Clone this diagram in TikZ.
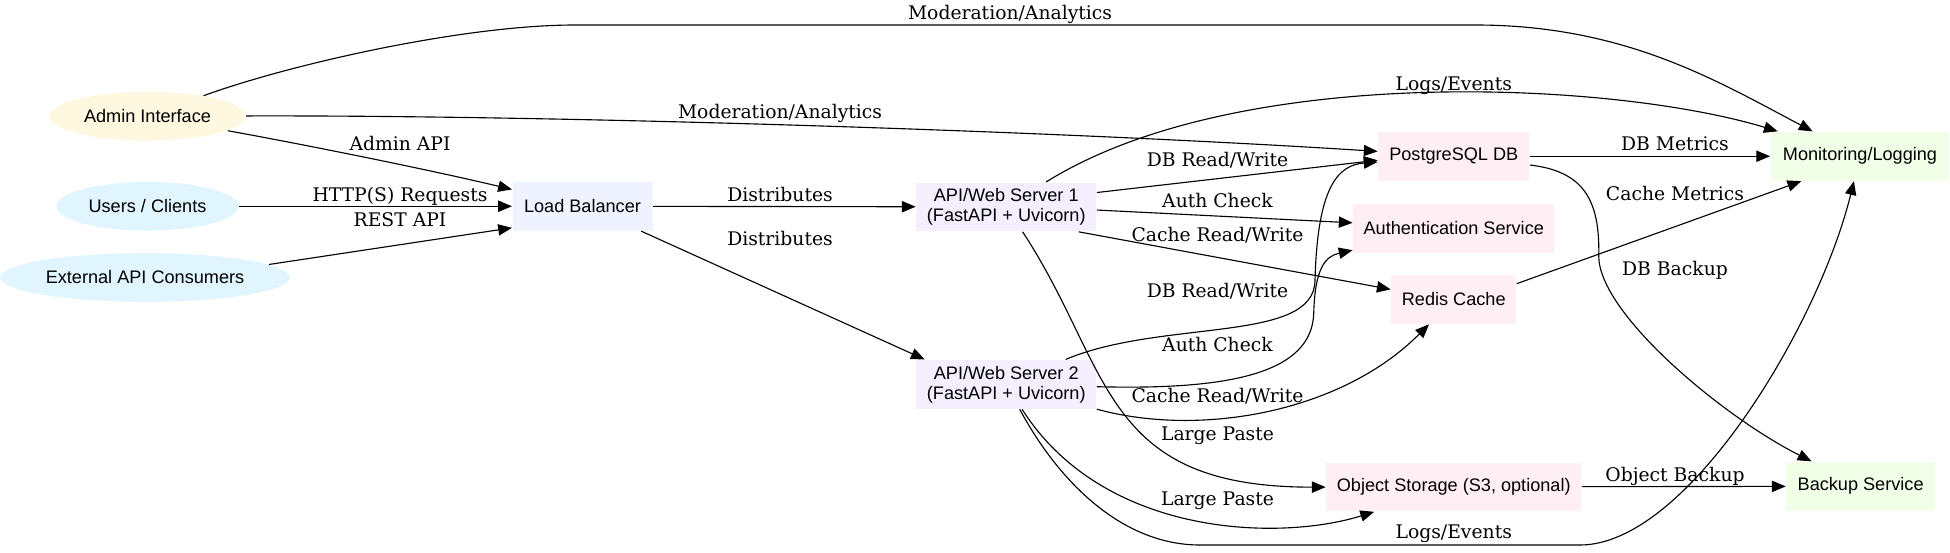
\documentclass[tikz,border=0pt]{standalone}
\usepackage{xcolor}
\usepackage{fontspec}
\usepackage{tikz}
\usetikzlibrary{shapes.geometric, arrows.meta}
\newfontfamily\arialfont{Liberation Sans}
\newfontfamily\rotfont{DejaVu Serif}
\definecolor{corAdmin}{HTML}{FFF8E1}
\definecolor{corCliente}{HTML}{E1F5FE}
\definecolor{corLB}{HTML}{EEF3FF}
\definecolor{corAPI}{HTML}{F5EEFF}
\definecolor{corDados}{HTML}{FFEFF4}
\definecolor{corOps}{HTML}{F1FFE8}

\begin{document}
\begin{tikzpicture}[x=1pt, y=-1pt, line width=0.9pt,
  >={Triangle[length=11pt,width=9pt]},
  elipse/.style={ellipse, fill=#1, inner sep=0pt, minimum height=39pt,
    font=\arialfont\fontsize{14.5}{16}\selectfont},
  caixa/.style={rectangle, fill=#1, inner sep=0pt, minimum height=39pt, align=center,
    font=\arialfont\fontsize{14.5}{16}\selectfont},
  rotulo/.style={inner sep=0pt, text height=11pt, text depth=3pt,
    font=\rotfont\fontsize{15}{17}\selectfont}]
\useasboundingbox (0,0) rectangle (1560,441.6);
% Nós
\node[elipse=corAdmin, minimum width=157pt] (admin) at (118,93) {Admin Interface};
\node[elipse=corCliente, minimum width=146pt] (users) at (118,165) {Users / Clients};
\node[elipse=corCliente, minimum width=232pt] (ext) at (116,222) {External API Consumers};
\node[caixa=corLB, minimum width=112pt] (lb) at (466,165) {Load Balancer};
\node[caixa=corAPI, minimum width=144pt] (api1) at (805,165.5) {API/Web Server 1\\(FastAPI + Uvicorn)};
\node[caixa=corAPI, minimum width=144pt] (api2) at (805,307.5) {API/Web Server 2\\(FastAPI + Uvicorn)};
\node[caixa=corDados, minimum width=121pt] (pg) at (1163,125) {PostgreSQL DB};
\node[caixa=corDados, minimum width=161pt] (auth) at (1163,182.5) {Authentication Service};
\node[caixa=corDados, minimum width=100pt] (redis) at (1163,239.5) {Redis Cache};
\node[caixa=corDados, minimum width=204pt] (obj) at (1163,389.5) {Object Storage (S3, optional)};
\node[caixa=corOps, minimum width=143pt] (mon) at (1488,125) {Monitoring/Logging};
\node[caixa=corOps, minimum width=119pt] (backup) at (1488.5,389) {Backup Service};
% Arestas
\draw[->] (admin) .. controls (230,52) and (370,20) .. (460,20) -- (1180,20) .. controls (1300,20) and (1374,65) .. (mon);
\draw[->] (admin) .. controls (450,92) and (850,105) .. (pg);
\draw[->] (admin) .. controls (240,115) and (340,135) .. (lb);
\draw[->] (users) -- (lb);
\draw[->] (ext.6) -- (lb.197);
\draw[->] (lb) -- (api1);
\draw[->] (lb.-23) -- (api2.163);
\draw[->] (api1) .. controls (990,50) and (1290,65) .. (mon);
\draw[->] (api1.9) -- (pg.183);
\draw[->] (api1.-2) -- (auth.177);
\draw[->] (api1.-19) -- (redis.171);
\draw[->] (api1) .. controls (890,295) and (880,390) .. (obj);
\draw[->] (api2) .. controls (930,255) and (1052,275) .. (1052,224) .. controls (1054,150) and (1070,132) .. (pg);
\draw[->] (api2) .. controls (980,312) and (1050,300) .. (1051,250) .. controls (1052,215) and (1060,205) .. (auth);
\draw[->] (api2) .. controls (960,350) and (1073,330) .. (redis);
\draw[->] (api2) .. controls (883,430) and (1024,433) .. (obj);
\draw[->] (api2) .. controls (849,389) and (900,436) .. (960,436) -- (1264,436) .. controls (1350,436) and (1455,260) .. (mon);
\draw[->] (pg) -- (mon);
\draw[->] (pg) .. controls (1267,137) and (1280,160) .. (1279,205) .. controls (1279,250) and (1376,332) .. (backup);
\draw[->] (redis.14) -- (mon.203);
\draw[->] (obj) -- (backup);
% Rótulos
\node[rotulo] (l-mod1) at (808,12) {Moderation/Analytics};
\node[rotulo] (l-mod2) at (624,91) {Moderation/Analytics};
\node[rotulo] (l-admin) at (320,116) {Admin API};
\node[rotulo] (l-http) at (320,157) {HTTP(S) Requests};
\node[rotulo] (l-rest) at (320,177) {REST API};
\node[rotulo] (l-dist1) at (624,157) {Distributes};
\node[rotulo] (l-dist2) at (624,192) {Distributes};
\node[rotulo] (l-logs1) at (1163,68) {Logs/Events};
\node[rotulo] (l-db1) at (974,129) {DB Read/Write};
\node[rotulo] (l-auth1) at (974,162) {Auth Check};
\node[rotulo] (l-cache1) at (974,189) {Cache Read/Write};
\node[rotulo] (l-db2) at (974,234) {DB Read/Write};
\node[rotulo] (l-auth2) at (974,277) {Auth Check};
\node[rotulo] (l-cache2) at (974,318) {Cache Read/Write};
\node[rotulo] (l-paste1) at (974,348) {Large Paste};
\node[rotulo] (l-paste2) at (974,400) {Large Paste};
\node[rotulo] (l-logs2) at (1163,427) {Logs/Events};
\node[rotulo] (l-dbm) at (1340,116) {DB Metrics};
\node[rotulo] (l-cachem) at (1340,156) {Cache Metrics};
\node[rotulo] (l-dbb) at (1340,216) {DB Backup};
\node[rotulo] (l-objb) at (1340,381) {Object Backup};
\end{tikzpicture}
\end{document}
